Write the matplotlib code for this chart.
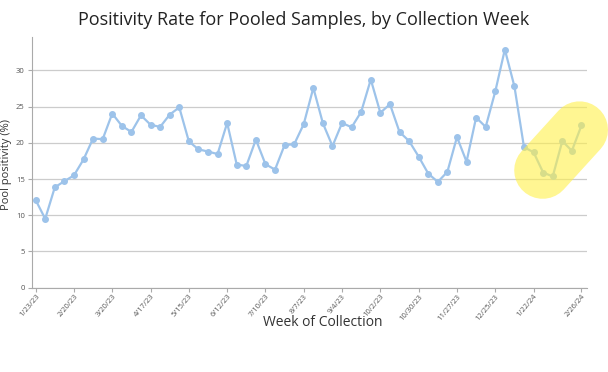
import numpy as np
import matplotlib.pyplot as plt

plt.rcParams['font.family'] = ['Open Sans', 'DejaVu Sans']

# weekly pool positivity (%), 1/23/23 .. 2/26/24
positivity = [12.1, 9.5, 13.85, 14.7, 15.5, 17.7, 20.6, 20.5, 24.05, 22.35,
              21.5, 23.8, 22.5, 22.2, 23.9, 24.9, 20.2, 19.1, 18.8, 18.45,
              22.75, 17.0, 16.8, 20.45, 17.05, 16.3, 19.7, 19.8, 22.6, 27.6,
              22.7, 19.55, 22.75, 22.15, 24.3, 28.75, 24.15, 25.35, 21.5, 20.25,
              18.1, 15.75, 14.6, 16.0, 20.8, 17.4, 23.5, 22.2, 27.1, 32.9,
              27.8, 19.4, 18.7, 15.9, 15.35, 20.25, 18.9, 22.4]
tick_idx = [0, 4, 8, 12, 16, 20, 24, 28, 32, 36, 40, 44, 48, 52, 57]
tick_labels = ['1/23/23', '2/20/23', '3/20/23', '4/17/23', '5/15/23', '6/12/23',
               '7/10/23', '8/7/23', '9/4/23', '10/2/23', '10/30/23', '11/27/23',
               '12/25/23', '1/22/24', '2/26/24']
highlight_from = 51  # recent weeks circled in yellow

x = np.arange(len(positivity))

fig = plt.figure(figsize=(6.08, 3.72), dpi=100)
ax = fig.add_axes([0.052, 0.227, 0.913, 0.673])

ax.plot(x, positivity, color='#9dc3ea', lw=1.6, marker='o', ms=4, zorder=3)

# yellow marker-pen highlight over the last weeks
hx = [highlight_from + 1.95, len(positivity) - 1.2]
hy = [16.2, 21.8]
ax.plot(hx, hy, color='#fff04a', alpha=0.6, lw=41, solid_capstyle='round', zorder=4,
        clip_on=False)

ax.set_xlim(-0.42, len(positivity) - 0.45)
ax.set_ylim(0, 34.6)
ax.set_yticks([0, 5, 10, 15, 20, 25, 30])
ax.set_xticks(tick_idx)
ax.set_xticklabels(tick_labels, rotation=50, ha='right', rotation_mode='anchor')
ax.grid(axis='y', color='#cccccc', lw=0.9)
ax.set_axisbelow(True)
for s in ['top', 'right']:
    ax.spines[s].set_visible(False)
for s in ['left', 'bottom']:
    ax.spines[s].set_color('#aaaaaa')
    ax.spines[s].set_linewidth(0.8)
ax.tick_params(colors='#aaaaaa', length=3, width=0.8)
ax.tick_params(labelcolor='#555555', labelsize=5.5)
ax.tick_params(axis='x', pad=1)
ax.tick_params(axis='y', pad=2)

ax.set_title('Positivity Rate for Pooled Samples, by Collection Week',
             fontsize=13, color='#222222', pad=9, x=0.49)
ax.set_xlabel('Week of Collection', fontsize=10, color='#333333')
ax.xaxis.set_label_coords(0.525, -0.108)
ax.set_ylabel('Pool positivity (%)', fontsize=8, color='#333333')
ax.yaxis.set_label_coords(-0.036, 0.49)

fig.savefig('out.png', dpi=100)
